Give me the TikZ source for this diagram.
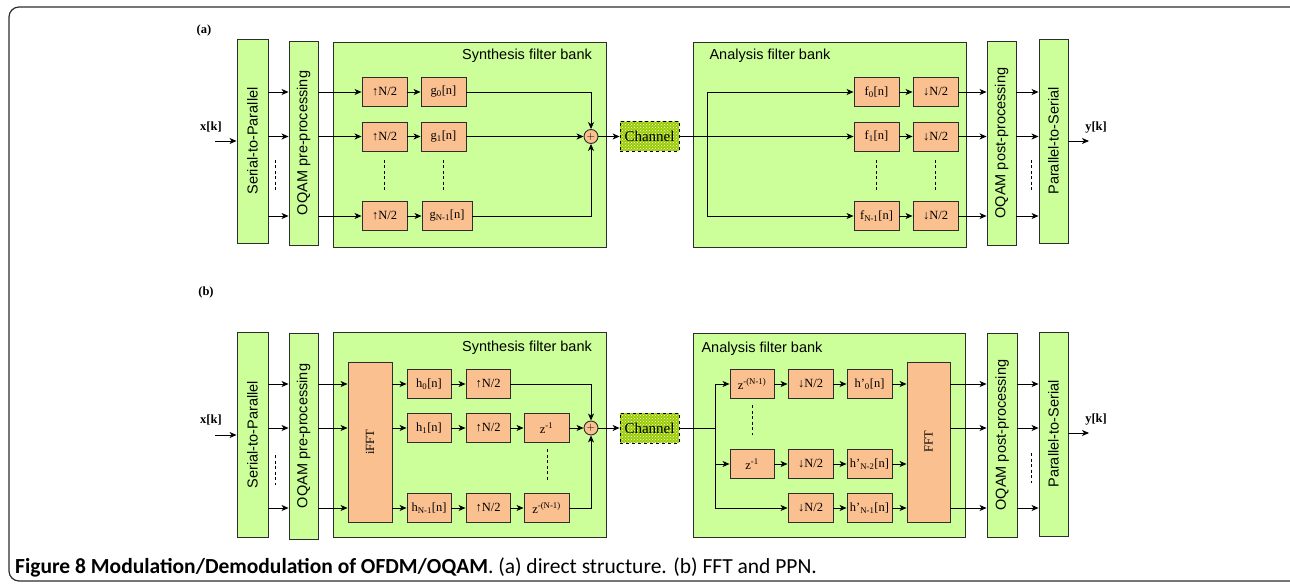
\documentclass[tikz,border=0pt]{standalone}
\usepackage{fontspec}
\setmainfont{Liberation Serif}
\setsansfont{Liberation Sans}
\newfontfamily\capfont{Carlito}
\usetikzlibrary{patterns,arrows.meta}
\definecolor{bankgreen}{RGB}{204,255,153}
\definecolor{blockorange}{RGB}{250,192,144}
\definecolor{changreen}{RGB}{153,204,0}
\definecolor{edgegray}{RGB}{45,45,45}

\begin{document}
\begin{tikzpicture}[x=1pt,y=-1pt,>={Stealth[length=7pt,width=6pt,inset=2pt]},
  bank/.style={draw=edgegray,fill=bankgreen,line width=0.9pt,inner sep=0pt},
  block/.style={draw=edgegray,fill=blockorange,line width=0.9pt,inner sep=0pt,minimum width=45pt,minimum height=29pt,font=\fontsize{12.5}{14}\selectfont},
  vtext/.style={rotate=90,font=\sffamily\fontsize{14.5}{16}\selectfont},
  banktitle/.style={font=\sffamily\fontsize{14.5}{16}\selectfont},
  sig/.style={font=\bfseries\fontsize{12.5}{14}\selectfont},
  sumnode/.style={circle,draw=edgegray,fill=blockorange,line width=0.9pt,minimum size=14pt,inner sep=0pt,font=\fontsize{11}{11}\selectfont},
  chanbox/.style={draw=black,dashed,line width=0.8pt,preaction={fill=changreen},pattern=crosshatch dots,pattern color=white,minimum width=59pt,minimum height=30pt,inner sep=0pt,font=\fontsize{15}{16}\selectfont},
  wire/.style={line width=0.9pt},
  dots/.style={dash pattern=on 3pt off 2.5pt,line width=0.8pt}]

  \useasboundingbox (0,0) rectangle (1290,585);
  \draw[edgegray,line width=1.2pt,rounded corners=10pt] (9,7) rectangle (1302,581);

  % (a) direct structure

  \node[sig] (taga) at (204,30) {(a)};

  \node[bank,minimum width=31pt,minimum height=204pt] (sp) at (252.5,141) {};
  \node[vtext] (spl) at (sp) {Serial-to-Parallel};
  \node[bank,minimum width=29pt,minimum height=204pt] (pre) at (303.5,143) {};
  \node[vtext] (prel) at (pre) {OQAM pre-processing};

  \node[bank,minimum width=273pt,minimum height=205pt] (syn) at (469.5,144.5) {};
  \node[banktitle] (synl) at (527,56) {Synthesis filter bank};

  \node[block] (up0) at (384.5,92) {↑N/2};
  \node[block] (up1) at (384.5,136.5) {↑N/2};
  \node[block] (upN) at (384.5,216) {↑N/2};
  \node[block] (g0) at (443.5,92) {g\textsubscript{0}[n]};
  \node[block] (g1) at (443.5,136.5) {g\textsubscript{1}[n]};
  \node[block,minimum width=50pt] (gN) at (447,216) {g\textsubscript{N-1}[n]};
  \node[sumnode] (sum) at (591,136.5) {$+$};

  \node[chanbox] (chan) at (649.5,136.5) {Channel};

  \node[bank,minimum width=273pt,minimum height=205pt] (ana) at (829.5,144.5) {};
  \node[banktitle] (anal) at (770,56) {Analysis filter bank};

  \node[block] (f0) at (876.5,92) {f\textsubscript{0}[n]};
  \node[block] (f1) at (876.5,136.5) {f\textsubscript{1}[n]};
  \node[block] (fN) at (876.5,216) {f\textsubscript{N-1}[n]};
  \node[block] (dn0) at (935.5,92) {↓N/2};
  \node[block] (dn1) at (935.5,136.5) {↓N/2};
  \node[block] (dnN) at (935.5,216) {↓N/2};

  \node[bank,minimum width=29pt,minimum height=204pt] (post) at (1001.5,143) {};
  \node[vtext] (postl) at (post) {OQAM post-processing};
  \node[bank,minimum width=29pt,minimum height=204pt] (ps) at (1053.5,141) {};
  \node[vtext] (psl) at (ps) {Parallel-to-Serial};

  \coordinate (xin) at (215,141);
  \coordinate (yout) at (1089,141);
  \coordinate (abr) at (707,136.5);
  \node[sig] (xk) at (211,127) {x[k]};
  \node[sig] (yk) at (1096,128) {y[k]};

  \draw[wire,->] (xin) -- (sp);
  \foreach \r in {up0,up1,upN}{
    \draw[wire,->] (sp.east |- \r) -- (pre.west |- \r);
    \draw[wire,->] (pre.east |- \r) -- (\r);
  }
  \draw[wire,->] (up0) -- (g0);
  \draw[wire,->] (up1) -- (g1);
  \draw[wire,->] (upN) -- (gN);
  \draw[wire,->] (g0) -| (sum);
  \draw[wire,->] (g1) -- (sum);
  \draw[wire,->] (gN) -| (sum);
  \draw[wire,->] (sum) -- (chan);

  \draw[wire,->] (chan) -- (f1);
  \draw[wire] (abr |- f0) -- (abr |- fN);
  \draw[wire,->] (abr |- f0) -- (f0);
  \draw[wire,->] (abr |- fN) -- (fN);
  \draw[wire,->] (f0) -- (dn0);
  \draw[wire,->] (f1) -- (dn1);
  \draw[wire,->] (fN) -- (dnN);
  \foreach \r in {dn0,dn1,dnN}{
    \draw[wire,->] (\r) -- (post.west |- \r);
    \draw[wire,->] (post.east |- \r) -- (ps.west |- \r);
  }
  \draw[wire,->] (ps) -- (yout);

  \draw[dots] (275,160) -- (275,190);
  \draw[dots] (384.5,160) -- (384.5,190);
  \draw[dots] (443.5,160) -- (443.5,190);
  \draw[dots] (876.5,160) -- (876.5,190);
  \draw[dots] (935.5,160) -- (935.5,190);
  \draw[dots] (1031,160) -- (1031,190);

  % (b) FFT and PPN

  \node[sig] (tagb) at (206,292) {(b)};

  \node[bank,minimum width=31pt,minimum height=205pt] (spb) at (252.5,434.5) {};
  \node[vtext] (spbl) at (spb) {Serial-to-Parallel};
  \node[bank,minimum width=29pt,minimum height=206pt] (preb) at (303.5,436) {};
  \node[vtext] (prebl) at (preb) {OQAM pre-processing};

  \node[bank,minimum width=273pt,minimum height=205pt] (synb) at (469.5,434.5) {};
  \node[banktitle] (synbl) at (527,348) {Synthesis filter bank};

  \node[block,minimum width=44pt,minimum height=160pt] (ifft) at (370,442) {};
  \node[rotate=90,font=\fontsize{12.5}{14}\selectfont] (ifftl) at (ifft) {iFFT};
  \node[block,minimum width=44pt] (hb0) at (429,384) {h\textsubscript{0}[n]};
  \node[block,minimum width=44pt] (hb1) at (429,428) {h\textsubscript{1}[n]};
  \node[block,minimum width=44pt] (hbN) at (429,508) {h\textsubscript{N-1}[n]};
  \node[block,minimum width=44pt] (ub0) at (488,384) {↑N/2};
  \node[block,minimum width=44pt] (ub1) at (488,428) {↑N/2};
  \node[block,minimum width=44pt] (ubN) at (488,508) {↑N/2};
  \node[block] (zb1) at (546.5,428) {z\textsuperscript{-1}};
  \node[block] (zbN) at (546.5,508) {z\textsuperscript{-(N-1)}};
  \node[sumnode] (sumb) at (591,428) {$+$};

  \node[chanbox] (chanb) at (649.5,428) {Channel};

  \node[bank,minimum width=272pt,minimum height=204pt] (anab) at (829,435) {};
  \node[banktitle] (anabl) at (762,349) {Analysis filter bank};

  \node[block,minimum width=44pt] (za0) at (752,384) {z\textsuperscript{-(N-1)}};
  \node[block,minimum width=44pt] (za1) at (752,464) {z\textsuperscript{-1}};
  \node[block] (da0) at (810.5,384) {↓N/2};
  \node[block] (da1) at (810.5,464) {↓N/2};
  \node[block] (da2) at (810.5,508) {↓N/2};
  \node[block] (ha0) at (869.5,384) {h’\textsubscript{0}[n]};
  \node[block] (ha1) at (869.5,464) {h’\textsubscript{N-2}[n]};
  \node[block] (ha2) at (869.5,508) {h’\textsubscript{N-1}[n]};
  \node[block,minimum width=43pt,minimum height=160pt] (fft) at (928.5,442) {};
  \node[rotate=90,font=\fontsize{12.5}{14}\selectfont] (fftl) at (fft) {FFT};

  \node[bank,minimum width=30pt,minimum height=204pt] (postb) at (1002,435) {};
  \node[vtext] (postbl) at (postb) {OQAM post-processing};
  \node[bank,minimum width=29pt,minimum height=204pt] (psb) at (1053.5,434) {};
  \node[vtext] (psbl) at (psb) {Parallel-to-Serial};

  \coordinate (xinb) at (215,435);
  \coordinate (youtb) at (1089,433);
  \coordinate (bbr) at (715,428);
  \node[sig] (xkb) at (211,420) {x[k]};
  \node[sig] (ykb) at (1096,420) {y[k]};

  \draw[wire,->] (xinb) -- (spb.west |- xinb);
  \foreach \r in {hb0,hb1,hbN}{
    \draw[wire,->] (spb.east |- \r) -- (preb.west |- \r);
    \draw[wire,->] (preb.east |- \r) -- (ifft.west |- \r);
    \draw[wire,->] (ifft.east |- \r) -- (\r);
  }
  \draw[wire,->] (hb0) -- (ub0);
  \draw[wire,->] (hb1) -- (ub1);
  \draw[wire,->] (hbN) -- (ubN);
  \draw[wire,->] (ub1) -- (zb1);
  \draw[wire,->] (ubN) -- (zbN);
  \draw[wire,->] (ub0) -| (sumb);
  \draw[wire,->] (zb1) -- (sumb);
  \draw[wire,->] (zbN) -| (sumb);
  \draw[wire,->] (sumb) -- (chanb);

  \draw[wire] (chanb) -- (bbr);
  \draw[wire] (bbr |- za0) -- (bbr |- da2);
  \draw[wire,->] (bbr |- za0) -- (za0);
  \draw[wire,->] (bbr |- za1) -- (za1);
  \draw[wire,->] (bbr |- da2) -- (da2);
  \draw[wire,->] (za0) -- (da0);
  \draw[wire,->] (za1) -- (da1);
  \draw[wire,->] (da0) -- (ha0);
  \draw[wire,->] (da1) -- (ha1);
  \draw[wire,->] (da2) -- (ha2);
  \foreach \r in {ha0,ha1,ha2}{
    \draw[wire,->] (\r) -- (fft.west |- \r);
  }
  \foreach \r in {ha0,sumb,ha2}{
    \draw[wire,->] (fft.east |- \r) -- (postb.west |- \r);
    \draw[wire,->] (postb.east |- \r) -- (psb.west |- \r);
  }
  \draw[wire,->] (psb.east |- youtb) -- (youtb);

  \draw[dots] (275,455) -- (275,485);
  \draw[dots] (547,449) -- (547,480);
  \draw[dots] (752,405) -- (752,435);
  \draw[dots] (1031,453) -- (1031,483);

  % caption
  \node[anchor=base west,inner sep=0pt,font=\capfont\fontsize{21.5}{24}\selectfont] (cap) at (15,573)
    {\textbf{Figure 8 Modulation/Demodulation of OFDM/OQAM}. (a) direct structure. (b) FFT and PPN.};

\end{tikzpicture}
\end{document}
